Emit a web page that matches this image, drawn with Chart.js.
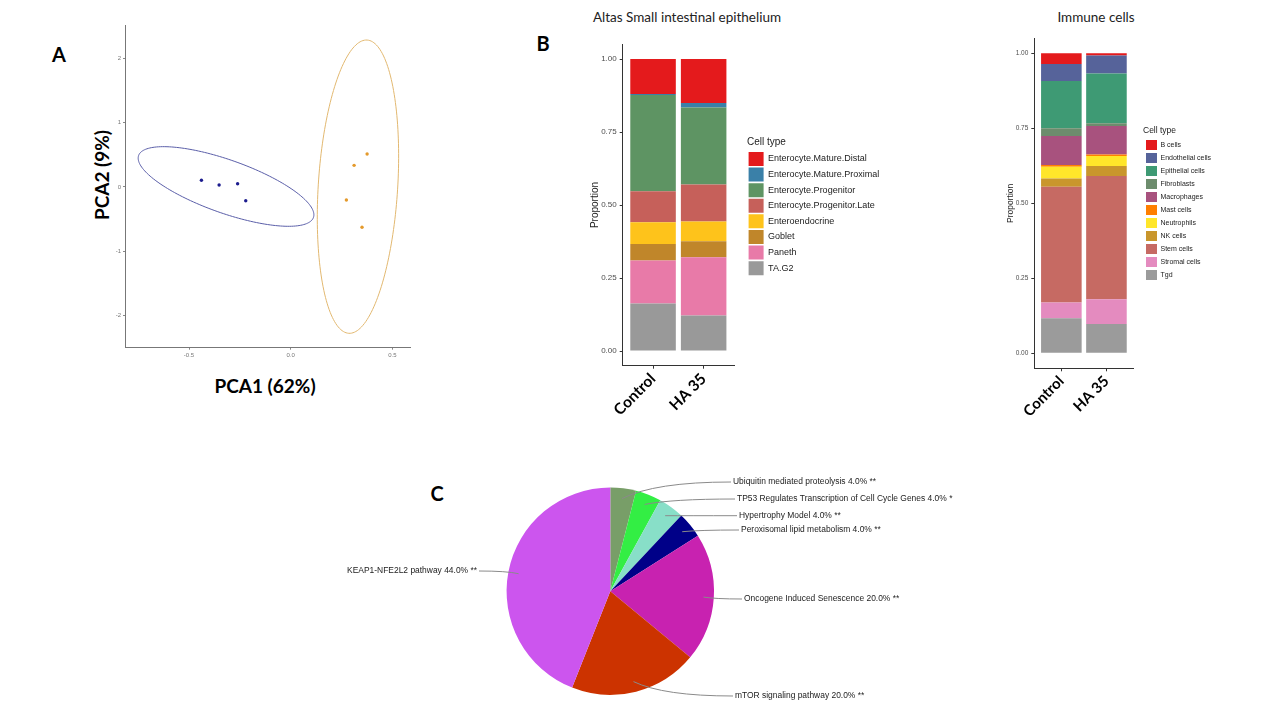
<!DOCTYPE html>
<html><head><meta charset="utf-8">
<script src="https://cdn.jsdelivr.net/npm/chart.js@4.4.1/dist/chart.umd.min.js"></script>
<style>
html,body{margin:0;padding:0;background:#fff;width:1280px;height:720px;overflow:hidden;position:relative}
canvas{position:absolute}
.t{position:absolute;white-space:nowrap;color:#000;transform:translate(-50%,-50%);line-height:1}
</style></head><body>
<div class="t" style="left:59px;top:54px;font:bold 20px Lato">A</div>
<div class="t" style="left:543px;top:43px;font:bold 20px Lato">B</div>
<div class="t" style="left:437px;top:493px;font:bold 20px Lato">C</div>
<div class="t" style="left:265px;top:385px;font:bold 19px Lato">PCA1 (62%)</div>
<div class="t" style="left:101px;top:175px;font:bold 19px Lato;transform:translate(-50%,-50%) rotate(-90deg)">PCA2 (9%)</div>
<div class="t" style="left:687px;top:17px;font:13.5px Lato;color:#222">Altas Small intestinal epithelium</div>
<div class="t" style="left:1096px;top:17px;font:13.5px Lato;color:#222">Immune cells</div>

<canvas id="pca" width="345" height="355" style="left:85px;top:10px"></canvas>
<canvas id="epi" width="337" height="420" style="left:570px;top:30px"></canvas>
<canvas id="imm" width="233" height="420" style="left:990px;top:30px"></canvas>
<canvas id="pie" width="680" height="240" style="left:300px;top:470px"></canvas>

<script>
// ---------------- data ----------------
const pcaGroups = ['Control', 'HA 35'];
const pcaX1 = [-0.439, -0.352, -0.261, -0.221];
const pcaY1 = [0.104, 0.031, 0.051, -0.213];
const pcaX2 = [0.376, 0.312, 0.274, 0.351];
const pcaY2 = [0.513, 0.337, -0.202, -0.627];
const pcaXTicks = [-0.5, 0, 0.5];
const pcaYTicks = [-2, -1, 0, 1, 2];
// confidence ellipses: centre, major and minor semi-axis vectors (data units)
const ellipseCentre = [[-0.318, 0.008], [0.331, 0.005]];
const ellipseMajor = [[0.430, -0.482], [0.045, 2.281]];
const ellipseMinor = [[-0.0435, -0.389], [0.195, -0.039]];

const barGroups = ['Control', 'HA 35'];
const propTicks = [0, 0.25, 0.5, 0.75, 1];

const epiTypes = ['TA.G2', 'Paneth', 'Goblet', 'Enteroendocrine', 'Enterocyte.Progenitor.Late',
  'Enterocyte.Progenitor', 'Enterocyte.Mature.Proximal', 'Enterocyte.Mature.Distal'];
const epiControl = [0.163, 0.147, 0.057, 0.074, 0.106, 0.330, 0.003, 0.120];
const epiHA35 = [0.122, 0.199, 0.055, 0.068, 0.126, 0.264, 0.015, 0.151];

const immTypes = ['Tgd', 'Stromal cells', 'Stem cells', 'NK cells', 'Neutrophils', 'Mast cells',
  'Macrophages', 'Fibroblasts', 'Epithelial cells', 'Endothelial cells', 'B cells'];
const immControl = [0.117, 0.052, 0.386, 0.028, 0.039, 0.006, 0.096, 0.026, 0.158, 0.056, 0.036];
const immHA35 = [0.098, 0.082, 0.411, 0.033, 0.034, 0.005, 0.095, 0.009, 0.166, 0.060, 0.007];

const pathways = ['Ubiquitin mediated proteolysis', 'TP53 Regulates Transcription of Cell Cycle Genes',
  'Hypertrophy Model', 'Peroxisomal lipid metabolism', 'Oncogene Induced Senescence',
  'mTOR signaling pathway', 'KEAP1-NFE2L2 pathway'];
const pathwayPct = [4, 4, 4, 4, 20, 20, 44];
const pathwaySig = ['**', '*', '**', '**', '**', '**', '**'];

// ---------------- styles ----------------
const pcaColors = ['#1c1c8e', '#e49a2c'];
const ellipseColors = ['#5a5ea8', '#e2b870'];
const epiColors = ['#999999', '#e87aa8', '#c0862a', '#fec31b', '#c6605a', '#5e9463', '#3a80a8', '#e41a1c'];
const immColors = ['#9b9b9b', '#e48bbf', '#c66a63', '#c9962c', '#ffe62a', '#ff7f00', '#a8527e',
  '#6d8c6d', '#3e9a74', '#56639a', '#e41a1c'];
const pathwayColors = ['#789e68', '#33ee44', '#88dfc8', '#000088', '#c822b0', '#cc3300', '#cc55ee'];

Chart.defaults.animation = false;
Chart.defaults.responsive = false;
Chart.defaults.events = [];
Chart.defaults.plugins.tooltip.enabled = false;

// ---------------- plugins ----------------
const ellipsePlugin = {
  id: 'ellipses',
  afterDatasetsDraw(chart, args, opts) {
    const {ctx, scales: {x, y}} = chart;
    opts.items.forEach(e => {
      ctx.save();
      ctx.beginPath();
      for (let i = 0; i <= 180; i++) {
        const t = i / 180 * 2 * Math.PI;
        const vx = e.c[0] + e.u[0] * Math.cos(t) + e.v[0] * Math.sin(t);
        const vy = e.c[1] + e.u[1] * Math.cos(t) + e.v[1] * Math.sin(t);
        const px = x.getPixelForValue(vx), py = y.getPixelForValue(vy);
        if (i === 0) ctx.moveTo(px, py); else ctx.lineTo(px, py);
      }
      ctx.closePath();
      ctx.strokeStyle = e.color;
      ctx.lineWidth = 1;
      ctx.stroke();
      ctx.restore();
    });
  }
};

const fixLegendWidth = {
  id: 'fixLegendWidth',
  afterInit(chart, args, opts) {
    const lg = chart.legend;
    if (!lg || lg._fixed) return;
    const orig = lg.fit.bind(lg);
    lg.fit = function () { orig(); this.width = opts.width; };
    lg._fixed = true;
  }
};

const pieLabels = {
  id: 'pieLabels',
  afterDraw(chart, args, opts) {
    const ctx = chart.ctx;
    const meta = chart.getDatasetMeta(0);
    meta.data.forEach((arc, i) => {
      const p = arc.getProps(['x', 'y', 'startAngle', 'endAngle', 'outerRadius']);
      const mid = (p.startAngle + p.endAngle) / 2;
      const ax = p.x + Math.cos(mid) * p.outerRadius * 0.9;
      const ay = p.y + Math.sin(mid) * p.outerRadius * 0.9;
      const pos = opts.pos[i];
      const tx = p.x + pos[0], ty = p.y + pos[1];
      const right = pos[0] < 0;
      const ex = right ? tx + 2 : tx - 2;
      ctx.save();
      ctx.beginPath();
      ctx.moveTo(ax, ay);
      ctx.quadraticCurveTo(ax + (ex - ax) * 0.3, ty, ex, ty);
      ctx.strokeStyle = '#8a8a8a';
      ctx.lineWidth = 1;
      ctx.stroke();
      ctx.font = '8.45px "Liberation Sans", Arial, sans-serif';
      ctx.fillStyle = '#222';
      ctx.textBaseline = 'middle';
      ctx.textAlign = right ? 'right' : 'left';
      const txt = pathways[i] + ' ' + pathwayPct[i].toFixed(1) + '% ' + pathwaySig[i];
      ctx.fillText(txt, tx, ty);
      ctx.restore();
    });
  }
};

// ---------------- PCA ----------------
new Chart(document.getElementById('pca'), {
  type: 'scatter',
  data: {
    datasets: [
      {label: pcaGroups[0], data: pcaX1.map((v, i) => ({x: v, y: pcaY1[i]})), backgroundColor: pcaColors[0], borderWidth: 0, pointRadius: 1.7},
      {label: pcaGroups[1], data: pcaX2.map((v, i) => ({x: v, y: pcaY2[i]})), backgroundColor: pcaColors[1], borderWidth: 0, pointRadius: 1.7}
    ]
  },
  options: {
    layout: {padding: {top: 15, right: 20, left: 0, bottom: 0}},
    plugins: {
      legend: {display: false},
      ellipses: {items: ellipseCentre.map((c, i) => ({c, u: ellipseMajor[i], v: ellipseMinor[i], color: ellipseColors[i]}))}
    },
    scales: {
      x: {
        type: 'linear', min: -0.815, max: 0.587,
        afterBuildTicks: s => { s.ticks = pcaXTicks.map(v => ({value: v})); },
        ticks: {callback: v => v.toFixed(1), font: {family: 'Liberation Sans', size: 6}, color: '#777', padding: 2},
        grid: {drawOnChartArea: false, tickLength: 2, color: '#888'},
        border: {color: '#777'},
        afterFit: s => { s.height = 17.3; }
      },
      y: {
        type: 'linear', min: -2.5, max: 2.52,
        afterBuildTicks: s => { s.ticks = pcaYTicks.map(v => ({value: v})); },
        ticks: {callback: v => String(v), font: {family: 'Liberation Sans', size: 6}, color: '#777', padding: 2},
        grid: {drawOnChartArea: false, tickLength: 2, color: '#888'},
        border: {color: '#777'},
        afterFit: s => { s.width = 40; }
      }
    }
  },
  plugins: [ellipsePlugin]
});

// ---------------- stacked bars ----------------
function stackSets(types, colors, groups) {
  return types.map((t, i) => ({
    label: t,
    data: groups.map((vals, g) => ({x: g + 1, y: vals[i]})),
    backgroundColor: colors[i],
    borderWidth: 0,
    barPercentage: 0.9,
    categoryPercentage: 1
  }));
}

function barOptions(cfg) {
  return {
    layout: {padding: {top: cfg.padTop, left: 0, right: 0, bottom: 0}},
    plugins: {
      legend: {
        position: 'right', align: 'center', fullSize: false, reverse: true,
        title: {display: true, text: 'Cell type', position: 'start', color: '#222',
          font: {family: 'Liberation Sans', size: cfg.legTitle}, padding: {top: cfg.legTitlePadTop, bottom: cfg.legTitlePadBottom}},
        labels: {boxWidth: cfg.boxW, boxHeight: cfg.boxH, padding: cfg.legPad, color: '#222',
          font: {family: 'Liberation Sans', size: cfg.legFont}}
      },
      fixLegendWidth: {width: cfg.legWidth}
    },
    scales: {
      x: {
        type: 'linear', stacked: true, min: 0.4, max: 2.6, offset: false,
        afterBuildTicks: s => { s.ticks = barGroups.map((g, i) => ({value: i + 1})); },
        ticks: {callback: v => barGroups[v - 1] || '', autoSkip: false, minRotation: 45, maxRotation: 45,
          font: {family: 'Lato', weight: 'bold', size: cfg.xFont}, color: '#000', padding: 1},
        grid: {drawOnChartArea: false, offset: false, tickLength: 3, color: '#333'},
        border: {color: '#333'},
        afterFit: s => { s.height = cfg.xHeight; }
      },
      y: {
        type: 'linear', stacked: true, min: -0.05, max: 1.05,
        afterBuildTicks: s => { s.ticks = propTicks.map(v => ({value: v})); },
        ticks: {callback: v => v.toFixed(2), font: {family: 'Liberation Sans', size: cfg.yFont}, color: '#4d4d4d', padding: 3},
        grid: {drawOnChartArea: false, tickLength: 3, color: '#333'},
        border: {color: '#333'},
        title: {display: true, text: 'Proportion', color: '#222',
          font: {family: 'Liberation Sans', size: cfg.yTitle}, padding: {top: cfg.yTitlePad, bottom: 0}},
        afterFit: s => { s.width = cfg.yWidth; }
      },
      sp: {
        type: 'linear', position: 'right', display: true,
        grid: {display: false}, border: {display: false}, ticks: {display: false},
        afterFit: s => { s.width = cfg.spacer; }
      }
    }
  };
}

new Chart(document.getElementById('epi'), {
  type: 'bar',
  data: {datasets: stackSets(epiTypes, epiColors, [epiControl, epiHA35])},
  options: barOptions({padTop: 14.4, legTitle: 10, legTitlePadTop: 4, legTitlePadBottom: 1,
    boxW: 15, boxH: 14, legPad: 1.6, legFont: 9, legWidth: 160, xFont: 15.5, xHeight: 84.3,
    yFont: 8, yTitle: 10, yTitlePad: 19, yWidth: 52.7, spacer: 13}),
  plugins: [fixLegendWidth]
});

new Chart(document.getElementById('imm'), {
  type: 'bar',
  data: {datasets: stackSets(immTypes, immColors, [immControl, immHA35])},
  options: barOptions({padTop: 8.3, legTitle: 8.5, legTitlePadTop: 3, legTitlePadBottom: 0,
    boxW: 11, boxH: 10, legPad: 3, legFont: 7, legWidth: 80, xFont: 15, xHeight: 81.7,
    yFont: 6.5, yTitle: 8.5, yTitlePad: 15.6, yWidth: 44.3, spacer: 9.5}),
  plugins: [fixLegendWidth]
});

// ---------------- pie ----------------
new Chart(document.getElementById('pie'), {
  type: 'pie',
  data: {
    labels: pathways,
    datasets: [{data: pathwayPct, backgroundColor: pathwayColors, borderWidth: 0}]
  },
  options: {
    layout: {padding: {left: 206.6, top: 17.5, right: 266, bottom: 15.1}},
    plugins: {
      legend: {display: false},
      pieLabels: {pos: [[122.7, -109.2], [126.7, -92.2], [128.7, -75.5], [130.7, -61.2],
        [133.7, 7.8], [124.7, 104.8], [-133.3, -20.2]]}
    }
  },
  plugins: [pieLabels]
});
</script>
</body></html>
